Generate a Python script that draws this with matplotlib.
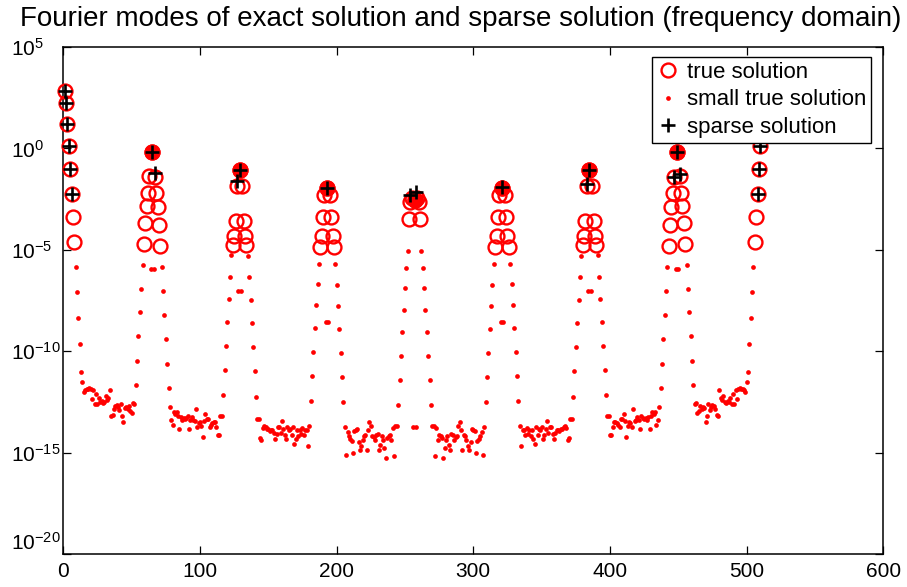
import numpy as np
import matplotlib
matplotlib.use("Agg")
import matplotlib.pyplot as plt
from matplotlib.ticker import NullLocator, FixedLocator

plt.rcParams['font.family'] = ['Liberation Sans', 'DejaVu Sans']
plt.rcParams['mathtext.fontset'] = 'custom'
plt.rcParams['mathtext.rm'] = 'Liberation Sans'
plt.rcParams['mathtext.it'] = 'Liberation Sans:italic'
plt.rcParams['mathtext.bf'] = 'Liberation Sans:bold'
plt.rcParams['mathtext.sf'] = 'Liberation Sans'

# ---- data: log10 |Fourier mode| per mode index (segments start at given index) ----
c0 = [2.85, 2.23, 1.21, 0.12, -1.01, -2.24, -3.39, -4.62, -5.85, -7.10, -8.37, -9.65, -11.02]
gap1 = [-11.52, -12.03, -11.90, -11.86, -11.84, -11.81, -11.87, -12.35, -11.90, -12.58,
        -12.10, -12.62, -12.30, -12.50, -12.45, -12.56, -12.50, -12.20, -12.40, -12.30,
        -11.93, -13.20, -13.17, -12.85, -12.72, -12.63, -12.75, -12.88, -12.60, -13.21,
        -13.50, -12.80, -12.75, -12.85, -12.70, -12.96, -13.03, -12.57, -12.60]
c64 = [-11.65, -10.47, -9.27, -8.07, -6.92, -5.77, -4.70, -3.69, -2.83, -2.21, -1.34, -5.94,
       -0.16, -5.94, -1.39, -2.21, -2.90, -3.77, -4.79, -5.85, -7.02, -8.20, -9.40, -10.63,
       -11.81, -12.75]
gap2 = [-13.37, -13.62, -13.01, -13.08, -13.01, -13.18, -13.83, -13.24, -13.37, -13.30,
        -13.34, -13.29, -13.18, -13.83, -13.37, -13.26, -13.40, -13.45, -12.85, -13.74,
        -13.55, -13.50, -13.67, -14.23, -13.45, -13.08, -13.34, -13.36, -13.74, -13.62,
        -13.54, -13.50, -13.50, -13.74, -14.11, -14.11, -13.18]
c128 = [-13.18, -12.14, -10.95, -9.75, -8.56, -7.41, -6.32, -5.28, -4.77, -4.31, -3.57, -1.85,
        -7.05, -1.06, -7.05, -1.85, -3.57, -4.31, -4.77, -5.31, -6.35, -7.46, -8.63, -9.81,
        -11.00, -12.24, -13.34]
gap3 = [-13.34, -14.27, -14.40, -13.79, -13.67, -13.74, -13.83, -13.83, -13.95, -13.87,
        -13.87, -14.03, -14.33, -14.08, -13.74, -13.74, -14.03, -13.45, -13.83, -14.11,
        -14.33, -13.74, -13.87, -13.83, -14.11, -13.74, -14.56, -14.33, -13.87, -14.20,
        -13.87, -14.08, -13.79, -14.11, -13.87, -13.90, -14.65]
c192 = [-13.70, -12.45, -11.24, -10.04, -8.88, -7.74, -6.69, -5.69, -4.84, -4.34, -3.39, -2.29,
        -8.55, -1.93, -8.55, -2.29, -3.39, -4.34, -4.84, -5.72, -6.72, -7.78, -8.91, -10.07,
        -11.29, -12.50, -13.75]
gap4 = [-15.10, -13.98, -14.20, -14.33, -14.45, -15.02, -13.95, -13.87, -13.83, -14.50,
        -14.85, -14.69, -14.36, -14.20, -14.12, -14.85, -13.87, -13.51, -13.71, -14.20,
        -14.25, -14.36, -14.12, -14.08, -14.85, -14.61, -14.20, -14.36, -14.77, -15.25,
        -14.28, -14.20, -14.12, -14.36, -13.79, -15.18, -13.71]
c256 = [-13.67, -12.64, -11.40, -10.22, -9.07, -7.96, -6.87, -5.92, -5.05, -3.49, -2.62, -2.45,
        -13.73, -2.54, -13.73, -2.45, -2.62, -3.49, -5.05, -5.92, -6.87, -7.96, -9.07, -10.22,
        -11.40, -12.64, -13.67]
gap5 = [-13.71, -15.18, -13.79, -14.36, -14.12, -14.20, -14.28, -15.25, -14.77, -14.36,
        -14.20, -14.61, -14.85, -14.08, -14.12, -14.36, -14.25, -14.20, -13.71, -13.51,
        -13.87, -14.85, -14.12, -14.20, -14.36, -14.69, -14.85, -14.50, -13.83, -13.87,
        -13.95, -15.02, -14.45, -14.33, -14.20, -13.98, -15.10]
c320 = [-13.75, -12.50, -11.29, -10.07, -8.91, -7.78, -6.72, -5.72, -4.84, -4.34, -3.39, -2.29,
        -8.55, -1.93, -8.55, -2.29, -3.39, -4.34, -4.84, -5.69, -6.69, -7.74, -8.88, -10.04,
        -11.24, -12.45, -13.70]
gap6 = [-14.65, -13.90, -13.87, -14.11, -13.79, -14.08, -13.87, -14.20, -13.87, -14.33,
        -14.56, -13.74, -14.11, -13.83, -13.87, -13.74, -14.33, -14.11, -13.83, -13.45,
        -14.03, -13.74, -13.74, -14.08, -14.33, -14.03, -13.87, -13.87, -13.95, -13.83,
        -13.83, -13.74, -13.67, -13.79, -14.40, -14.27, -13.34]
c384 = [-13.34, -12.24, -11.00, -9.81, -8.63, -7.46, -6.35, -5.31, -4.77, -4.31, -3.57, -1.85,
        -7.05, -1.06, -7.05, -1.85, -3.57, -4.31, -4.77, -5.28, -6.32, -7.41, -8.56, -9.75,
        -10.95, -12.14, -13.18]
gap7 = [-13.18, -14.11, -14.11, -13.74, -13.50, -13.50, -13.54, -13.62, -13.74, -13.36,
        -13.34, -13.08, -13.45, -14.23, -13.67, -13.50, -13.55, -13.74, -12.85, -13.45,
        -13.40, -13.26, -13.37, -13.83, -13.18, -13.29, -13.34, -13.30, -13.37, -13.24,
        -13.83, -13.18, -13.01, -13.08, -13.01, -13.62, -13.37]
c448 = [-12.75, -11.81, -10.63, -9.40, -8.20, -7.02, -5.85, -4.79, -3.77, -2.90, -2.21, -1.39,
        -5.94, -0.16, -5.94, -1.34, -2.21, -2.83, -3.69, -4.70, -5.77, -6.92, -8.07, -9.27,
        -10.47, -11.65]
gap8 = [-12.60, -12.57, -13.03, -12.96, -12.70, -12.85, -12.75, -12.80, -13.50, -13.21,
        -12.60, -12.88, -12.75, -12.63, -12.72, -12.85, -13.17, -13.20, -11.93, -12.30,
        -12.40, -12.20, -12.50, -12.56, -12.45, -12.50, -12.30, -12.62, -12.10, -12.58,
        -11.90, -12.35, -11.87, -11.81, -11.84, -11.86, -11.90, -12.03, -11.52]
c512 = [-11.02, -9.65, -8.37, -7.10, -5.85, -4.62, -3.39, -2.24, -1.01, 0.12]

segment_starts = [1, 14, 53, 79, 116, 143, 180, 207, 244, 271, 308, 335, 372, 399, 436, 462, 501]
segment_values = [c0, gap1, c64, gap2, c128, gap3, c192, gap4, c256, gap5, c320, gap6, c384,
                  gap7, c448, gap8, c512]

# sparse (recovered) solution
sparse_idx = [1, 2, 3, 4, 5, 6, 65, 67, 127, 129, 193, 254, 258, 321, 383, 385, 447, 449, 451,
              508, 509, 510]
sparse_log = [2.85, 2.23, 1.21, 0.12, -1.01, -2.24, -0.16, -1.23, -1.63, -1.06, -1.93, -2.29,
              -2.13, -1.91, -1.75, -1.06, -1.39, -0.16, -1.26, -2.24, -1.01, 0.12]

# dominant modes (appear as solid circles in the original)
peak_idx = [65, 129, 193, 257, 321, 385, 449]

threshold = 1e-5
x_ticks = [0, 100, 200, 300, 400, 500, 600]
y_ticks = [1e-20, 1e-15, 1e-10, 1e-5, 1e0, 1e5]

# ---- build arrays ----
idx = np.concatenate([np.arange(s, s + len(v)) for s, v in zip(segment_starts, segment_values)])
mag = 10.0 ** np.concatenate([np.asarray(v, float) for v in segment_values])
big = mag >= threshold
lookup = dict(zip(idx.tolist(), mag.tolist()))

fig = plt.figure(figsize=(9.07, 5.87), dpi=100)
ax = fig.add_axes([63.3 / 907, 1 - 554 / 587, 820 / 907, 507 / 587])

ax.semilogy(idx[big], mag[big], 'o', mfc='none', mec='r', ms=10, mew=1.7,
            clip_on=False, label='true solution', zorder=3)
ax.semilogy(idx[~big], mag[~big], 'o', color='r', mec='none', ms=3.4,
            clip_on=False, label='small true solution', zorder=3)
ax.semilogy(peak_idx, [lookup[i] for i in peak_idx], 'o', mfc='r', mec='r', ms=10, mew=1.7,
            clip_on=False, zorder=3)
ax.semilogy(sparse_idx, 10.0 ** np.asarray(sparse_log), '+', color='k', ms=9.5, mew=1.9,
            clip_on=False, label='sparse solution', zorder=4)

ax.set_xlim(x_ticks[0], x_ticks[-1])
ax.set_ylim(y_ticks[0], y_ticks[-1])
ax.xaxis.set_major_locator(FixedLocator(x_ticks))
ax.yaxis.set_major_locator(FixedLocator(y_ticks))
ax.yaxis.set_minor_locator(NullLocator())
ax.xaxis.set_minor_locator(NullLocator())
ax.tick_params(direction='in', length=6, width=0.9, top=True, right=True, labelsize=15,
               colors='k')
ax.tick_params(axis='x', pad=6)
# y tick labels: left-aligned at a fixed x (MATLAB-style)
ax.tick_params(axis='y', pad=(63.3 - 11.5) * 72 / 100)
for lab in ax.get_yticklabels():
    lab.set_horizontalalignment('left')
for sp in ax.spines.values():
    sp.set_linewidth(1.1)

fig.text(461 / 907, 1 - 26 / 587, 'Fourier modes of exact solution and sparse solution (frequency domain)',
         ha='center', va='baseline', fontsize=20)

leg = ax.legend(loc='upper right', bbox_to_anchor=(0.985, 0.9797), borderaxespad=0,
                fontsize=16, frameon=True, fancybox=False, framealpha=1, edgecolor='k',
                handlelength=1.1, handletextpad=0.3, borderpad=0.2, labelspacing=0.3,
                markerscale=1.0)
leg.get_frame().set_linewidth(1.0)

fig.canvas.draw()
# nudge the lowest y label up slightly so it clears the x-axis "0"
ylabs = ax.get_yticklabels()
ylabs[0].set_verticalalignment('bottom')

fig.savefig('out.png', dpi=100)
